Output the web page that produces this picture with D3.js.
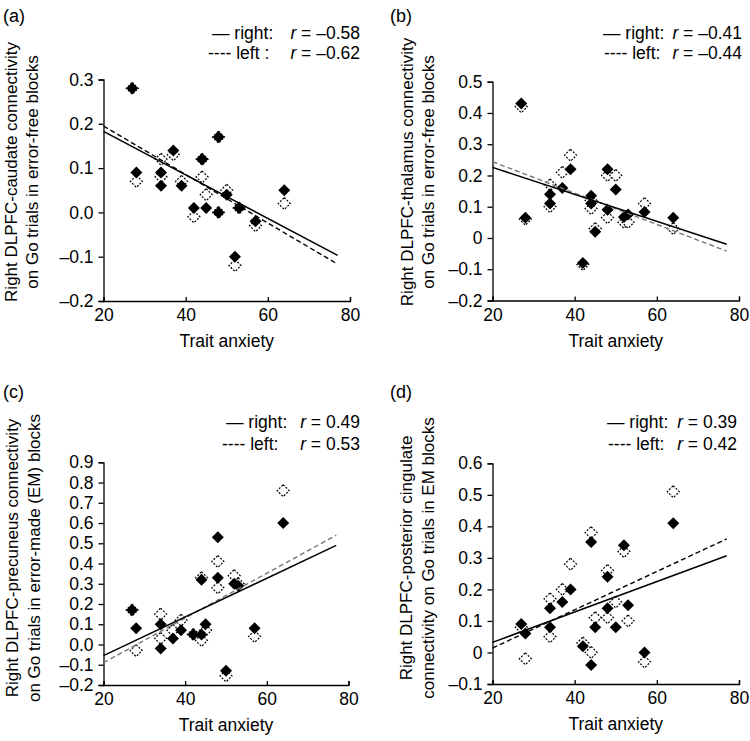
<!DOCTYPE html>
<html><head><meta charset="utf-8">
<script src="https://cdn.jsdelivr.net/npm/d3@7/dist/d3.min.js"></script>
<style>
body{margin:0;background:#fff;}
svg{display:block;font-family:"Liberation Sans",Arial,sans-serif;}
</style></head>
<body>
<svg id="chart" width="750" height="741"></svg>
<script>
// ---------- data ----------
const anxiety = [27,28,34,34,37,39,42,44,44,45,48,48,50,52,53,57,64];

const rightA = [0.28,0.09,0.09,0.06,0.14,0.06,0.01,0.12,0.12,0.01,0.17,0.00,0.04,-0.10,0.01,-0.02,0.05];
const leftA  = [0.28,0.07,0.12,0.08,0.13,0.07,-0.01,0.08,0.12,0.04,0.17,0.00,0.05,-0.12,0.01,-0.03,0.02];
const rightB = [0.43,0.065,0.14,0.11,0.16,0.22,-0.08,0.135,0.11,0.02,0.22,0.09,0.155,0.067,0.075,0.083,0.065];
const leftB  = [0.42,0.06,0.17,0.10,0.21,0.265,-0.085,0.12,0.094,0.03,0.20,0.065,0.20,0.05,0.05,0.11,0.03];
const rightC = [0.17,0.08,0.10,-0.02,0.03,0.07,0.05,0.32,0.05,0.10,0.53,0.33,-0.13,0.30,0.29,0.08,0.60];
const leftC  = [0.17,-0.03,0.15,0.03,0.07,0.12,0.05,0.33,0.02,0.07,0.41,0.28,-0.155,0.34,0.30,0.04,0.76];
const rightD = [0.09,0.06,0.14,0.08,0.16,0.20,0.02,0.35,-0.04,0.08,0.24,0.14,0.08,0.34,0.15,0.00,0.41];
const leftD  = [0.08,-0.02,0.17,0.05,0.20,0.28,0.03,0.38,0.00,0.11,0.26,0.11,0.16,0.32,0.10,-0.03,0.51];

// fitted lines: [value at x start, value at x end]
const fitX = [20, 77];
const fitRightA = [0.183,-0.097], fitLeftA = [0.195,-0.117];
const fitRightB = [0.226,-0.020], fitLeftB = [0.244,-0.042];
const fitRightC = [-0.055,0.49],  fitLeftC = [-0.09,0.54];
const fitRightD = [0.032,0.307],  fitLeftD = [0.014,0.36];

const xTicks = [20,40,60,80];
const yTicksA = [-0.2,-0.1,0,0.1,0.2,0.3];
const yLabelsA = ["–0.2","–0.1","0.0","0.1","0.2","0.3"];
const yTicksB = [-0.2,-0.1,0,0.1,0.2,0.3,0.4,0.5];
const yLabelsB = ["–0.2","–0.1","0","0.1","0.2","0.3","0.4","0.5"];
const yTicksC = [-0.2,-0.1,0,0.1,0.2,0.3,0.4,0.5,0.6,0.7,0.8,0.9];
const yLabelsC = ["–0.2","–0.1","0.0","0.1","0.2","0.3","0.4","0.5","0.6","0.7","0.8","0.9"];
const yTicksD = [-0.1,0,0.1,0.2,0.3,0.4,0.5,0.6];
const yLabelsD = ["–0.1","0","0.1","0.2","0.3","0.4","0.5","0.6"];

const panelLetters = ["(a)","(b)","(c)","(d)"];
const yTitles = [
  ["Right DLPFC-caudate connectivity","on Go trials in error-free blocks"],
  ["Right DLPFC-thalamus connectivity","on Go trials in error-free blocks"],
  ["Right DLPFC-precuneus connectivity","on Go trials in error-made (EM) blocks"],
  ["Right DLPFC-posterior cingulate","connectivity on Go trials in EM blocks"]
];
const xTitle = "Trait anxiety";
const legendRight = [["— right:","–0.58"],["— right:","–0.41"],["— right:","0.49"],["— right:","0.39"]];
const legendLeft  = [["---- left :","–0.62"],["---- left:","–0.44"],["---- left:","0.53"],["---- left:","0.42"]];

// ---------- layout ----------
const panels = [
  {xr:[103.5,350], yd:[-0.2,0.3], yr:[301,79.5], ticks:yTicksA, labels:yLabelsA, right:rightA, left:leftA, fr:fitRightA, fl:fitLeftA, dashColor:"#000",
   letter:[3,22], leg:{x1:212,x2:208,xe:360,y1:39,y2:59}, yt:{x1:11,x2:32,cy:172}},
  {xr:[492.5,739], yd:[-0.2,0.5], yr:[300.5,81.7], ticks:yTicksB, labels:yLabelsB, right:rightB, left:leftB, fr:fitRightB, fl:fitLeftB, dashColor:"#777",
   letter:[390,22], leg:{x1:603,x2:604,xe:742,y1:39,y2:59}, yt:{x1:407,x2:428,cy:172}},
  {xr:[103.5,348.5], yd:[-0.2,0.9], yr:[685,462.3], ticks:yTicksC, labels:yLabelsC, right:rightC, left:leftC, fr:fitRightC, fl:fitLeftC, dashColor:"#777",
   letter:[3,398], leg:{x1:226,x2:222,xe:360,y1:428,y2:450}, yt:{x1:12,x2:34,cy:558}},
  {xr:[492.5,739], yd:[-0.1,0.6], yr:[684,463.3], ticks:yTicksD, labels:yLabelsD, right:rightD, left:leftD, fr:fitRightD, fl:fitLeftD, dashColor:"#000",
   letter:[390,398], leg:{x1:607,x2:608,xe:737,y1:428,y2:450}, yt:{x1:406,x2:428,cy:558}}
];

const svg = d3.select("#chart");
const diamond = d3.symbol().type(d3.symbolSquare).size(72);

panels.forEach((p,i)=>{
  const x = d3.scaleLinear().domain([20,80]).range(p.xr);
  const y = d3.scaleLinear().domain(p.yd).range(p.yr);
  const g = svg.append("g");

  // axes
  const yAxis = d3.axisLeft(y).tickValues(p.ticks).tickFormat((d,j)=>p.labels[j]).tickSizeOuter(0).tickSize(5).tickPadding(5);
  const ya = g.append("g").attr("transform",`translate(${p.xr[0]},0)`).call(yAxis);
  const xAxis = d3.axisBottom(x).tickValues(xTicks).tickFormat(d3.format("d")).tickSizeOuter(0).tickSize(-4).tickPadding(8);
  const xa = g.append("g").attr("transform",`translate(0,${p.yr[0]})`).call(xAxis);
  [ya,xa].forEach(a=>{
    a.select(".domain").attr("stroke","#000").attr("stroke-width",1.3);
    a.selectAll(".tick line").attr("stroke","#000").attr("stroke-width",1.3);
    a.selectAll(".tick text").attr("fill","#000").style("font-size","17.5px").style("font-family","'Liberation Sans',Arial,sans-serif");
  });
  xa.selectAll(".tick text").attr("dy","0.71em");

  // points: open (left) first, then filled (right)
  g.selectAll(".open").data(anxiety.map((a,j)=>[a,p.left[j]])).join("path")
    .attr("d",diamond)
    .attr("transform",d=>`translate(${x(d[0])},${y(d[1])}) rotate(45)`)
    .attr("fill","#fff").attr("stroke","#000").attr("stroke-width",1.2).attr("stroke-dasharray","2,1.5");
  g.selectAll(".fill").data(anxiety.map((a,j)=>[a,p.right[j]])).join("path")
    .attr("d",diamond)
    .attr("transform",d=>`translate(${x(d[0])},${y(d[1])}) rotate(45)`)
    .attr("fill","#000");

  // fit lines
  const line = d3.line().x(d=>x(d[0])).y(d=>y(d[1]));
  g.append("path").datum(fitX.map((fx,j)=>[fx,p.fl[j]])).attr("d",line)
    .attr("fill","none").attr("stroke",p.dashColor).attr("stroke-width",1.4).attr("stroke-dasharray","5,3");
  g.append("path").datum(fitX.map((fx,j)=>[fx,p.fr[j]])).attr("d",line)
    .attr("fill","none").attr("stroke","#000").attr("stroke-width",1.5);

  // x title
  g.append("text").attr("x",(p.xr[0]+p.xr[1])/2).attr("y",p.yr[0]+46)
    .attr("text-anchor","middle").style("font-size","17.5px").text(xTitle);

  // y title
  const yt = g.append("text").attr("transform",`translate(${p.yt.x1},${p.yt.cy}) rotate(-90)`)
    .attr("text-anchor","middle").style("font-size","17px");
  yt.append("tspan").attr("x",0).attr("y",0).attr("dy","0.35em").text(yTitles[i][0]);
  yt.append("tspan").attr("x",0).attr("y",p.yt.x2-p.yt.x1).attr("dy","0.35em").text(yTitles[i][1]);

  // panel letter
  g.append("text").attr("x",p.letter[0]).attr("y",p.letter[1]).style("font-size","18px").text(panelLetters[i]);

  // legend
  const rows = [[legendRight[i],p.leg.x1,p.leg.y1],[legendLeft[i],p.leg.x2,p.leg.y2]];
  rows.forEach(([lab,lx,ly])=>{
    g.append("text").attr("x",lx).attr("y",ly).style("font-size","17.5px").text(lab[0]);
    const t = g.append("text").attr("x",p.leg.xe).attr("y",ly).attr("text-anchor","end").style("font-size","17.5px");
    t.append("tspan").style("font-style","italic").text("r");
    t.append("tspan").text(" = " + lab[1]);
  });
});
</script>
</body></html>
